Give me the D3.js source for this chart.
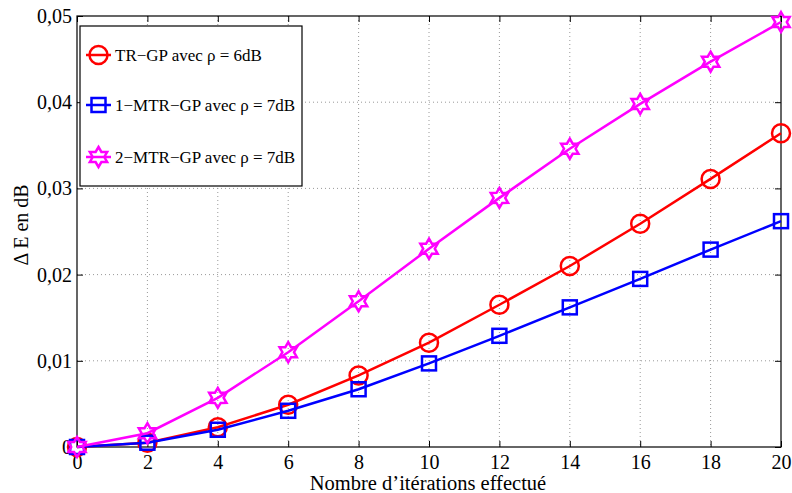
<!DOCTYPE html>
<html><head><meta charset="utf-8">
<script src="https://cdn.jsdelivr.net/npm/d3@7"></script>
<style>body{margin:0;background:#fff}svg{display:block}text{font-family:"Liberation Serif","Times New Roman",serif}</style>
</head><body>
<svg id="c" width="792" height="493"></svg>
<script>
const iterations=[0,2,4,6,8,10,12,14,16,18,20];
const trGP=[0,0.0005,0.0023,0.0049,0.0083,0.0121,0.0165,0.0210,0.0259,0.0311,0.0364];
const mtr1=[0,0.0005,0.0020,0.0042,0.0067,0.0097,0.0129,0.0162,0.0195,0.0229,0.0262];
const mtr2=[0,0.0016,0.0057,0.0110,0.0169,0.0230,0.0289,0.0346,0.0398,0.0447,0.0493];
const xTicks=[0,2,4,6,8,10,12,14,16,18,20];
const yTicks=[0,0.01,0.02,0.03,0.04,0.05];
const yTickLabels=["0","0,01","0,02","0,03","0,04","0,05"];
const seriesNames=["TR\u2212GP avec \u03c1 = 6dB","1\u2212MTR\u2212GP avec \u03c1 = 7dB","2\u2212MTR\u2212GP avec \u03c1 = 7dB"];
const seriesColors=["#ff0000","#0000ff","#ff00ff"];
const seriesMarkers=["circle","square","star"];

const svg=d3.select("#c");
const L=77,R=781,T=16,B=447;
const x=d3.scaleLinear().domain([0,20]).range([L,R]);
const y=d3.scaleLinear().domain([0,0.05]).range([B,T]);

// grid
const g=svg.append("g");
xTicks.slice(1,-1).forEach(t=>g.append("line").attr("x1",x(t)).attr("x2",x(t)).attr("y1",T).attr("y2",B).attr("stroke","#999").attr("stroke-width",1).attr("stroke-dasharray","1,3"));
yTicks.slice(1,-1).forEach(t=>g.append("line").attr("x1",L).attr("x2",R).attr("y1",y(t)).attr("y2",y(t)).attr("stroke","#999").attr("stroke-width",1).attr("stroke-dasharray","1,3"));

// axes
const xa=svg.append("g").attr("transform",`translate(0,${B})`).call(d3.axisBottom(x).tickValues(xTicks).tickSize(-6).tickPadding(8).tickFormat(d3.format("d")));
const xt=svg.append("g").attr("transform",`translate(0,${T})`).call(d3.axisTop(x).tickValues(xTicks).tickSize(-6).tickFormat(""));
const ya=svg.append("g").attr("transform",`translate(${L},0)`).call(d3.axisLeft(y).tickValues(yTicks).tickSize(-6).tickPadding(5).tickFormat((d,i)=>yTickLabels[i]));
const yr=svg.append("g").attr("transform",`translate(${R},0)`).call(d3.axisRight(y).tickValues(yTicks).tickSize(-6).tickFormat(""));
[xa,xt,ya,yr].forEach(a=>{a.select(".domain").remove();a.selectAll("line").attr("stroke","#000");a.selectAll("text").attr("font-size",20).attr("font-family","Liberation Serif").attr("fill","#000");});
svg.append("rect").attr("x",L).attr("y",T).attr("width",R-L).attr("height",B-T).attr("fill","none").attr("stroke","#000").attr("stroke-width",1.2);

function marker(sel,type,color,cx,cy){
  if(type==="circle") sel.append("circle").attr("cx",cx).attr("cy",cy).attr("r",9).attr("fill","none").attr("stroke",color).attr("stroke-width",2.5);
  else if(type==="square") sel.append("rect").attr("x",cx-7).attr("y",cy-7).attr("width",14).attr("height",14).attr("fill","none").attr("stroke",color).attr("stroke-width",2.5);
  else {
    const r1=10,r2=5.8;const pts=[];
    for(let k=0;k<12;k++){const a=-Math.PI/2+k*Math.PI/6;const r=k%2?r2:r1;pts.push([cx+r*Math.cos(a),cy+r*Math.sin(a)]);}
    sel.append("polygon").attr("points",pts.map(p=>p.join(",")).join(" ")).attr("fill","none").attr("stroke",color).attr("stroke-width",2.5);
  }
}

const allData=[trGP,mtr1,mtr2];
const line=d3.line().x((d,i)=>x(iterations[i])).y(d=>y(d));
allData.forEach((s,k)=>{
  const gg=svg.append("g");
  gg.append("path").datum(s).attr("d",line).attr("fill","none").attr("stroke",seriesColors[k]).attr("stroke-width",2.5);
  s.forEach((v,i)=>marker(gg,seriesMarkers[k],seriesColors[k],x(iterations[i]),y(v)));
});

// legend
const lg=svg.append("g");
lg.append("rect").attr("x",80).attr("y",26).attr("width",222).attr("height",160).attr("fill","#fff").attr("stroke","#000").attr("stroke-width",1.2);
const ly=[55,105,157];
seriesNames.forEach((n,k)=>{
  lg.append("line").attr("x1",86).attr("x2",111).attr("y1",ly[k]).attr("y2",ly[k]).attr("stroke",seriesColors[k]).attr("stroke-width",2.5);
  marker(lg,seriesMarkers[k],seriesColors[k],98.5,ly[k]);
  lg.append("text").attr("x",115).attr("y",ly[k]+6).attr("font-size",17).attr("fill","#000").text(n);
});

// axis labels
svg.append("text").attr("x",428).attr("y",490).attr("text-anchor","middle").attr("font-size",20.5).text("Nombre d\u2019it\u00e9rations effectu\u00e9");
svg.append("text").attr("transform","translate(28,225) rotate(-90)").attr("text-anchor","middle").attr("font-size",20).text("\u0394 E en dB");
</script>
</body></html>
